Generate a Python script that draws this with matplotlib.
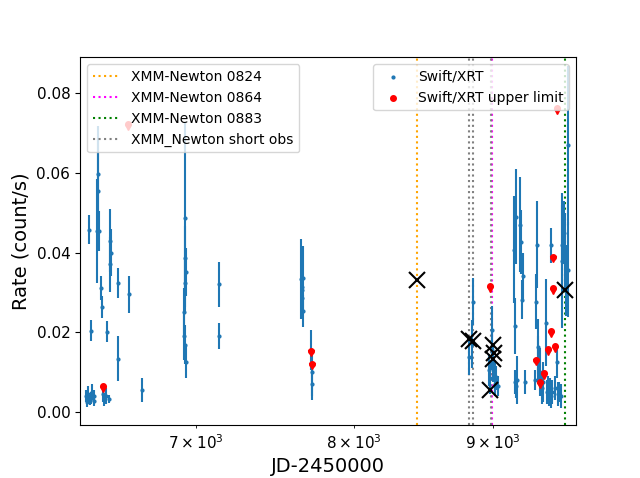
import matplotlib
matplotlib.use("Agg")
import matplotlib.pyplot as plt

# Swift/XRT detections (JD-2450000, rate, error)
swift_t = [6377, 6383, 6388, 6393, 6397, 6403, 6404, 6412, 6418, 6423,
           6435, 6441, 6445, 6450, 6459, 6464, 6469, 6475, 6486, 6491,
           6504, 6508, 6510, 6514, 6550, 6552, 6614, 6687,
           6932, 6932, 6935, 6935, 6938, 6938, 6941, 6941,
           7138, 7138,
           7649, 7655, 7658, 7660, 7662, 7664, 7717, 7721, 7725,
           8821, 8846, 8849,
           8972, 8983, 8991, 8998, 9006, 9014, 9021, 9029, 9041,
           9164, 9168, 9174, 9177, 9180, 9187, 9210, 9216, 9224, 9236, 9250,
           9328, 9336, 9344, 9352, 9355, 9370, 9383, 9392, 9413, 9420,
           9429, 9439, 9450, 9452, 9458, 9466, 9488, 9501, 9510, 9520,
           9533, 9544, 9546, 9555, 9562, 9570, 9580, 9590, 9596]
swift_rate = [0.0040, 0.0025, 0.0045, 0.0457, 0.0030, 0.0035, 0.0204, 0.0050, 0.0028, 0.0040,
              0.0454, 0.0597, 0.0555, 0.0454, 0.0310, 0.0264, 0.0045, 0.0030, 0.0039, 0.0201,
              0.0033, 0.0430, 0.0370, 0.0400, 0.0324, 0.0134, 0.0295, 0.0054,
              0.0250, 0.0190, 0.0487, 0.0324, 0.0386, 0.0169, 0.0352, 0.0126,
              0.0320, 0.0190,
              0.0334, 0.0314, 0.0306, 0.0286, 0.0336, 0.0254, 0.0156, 0.0099, 0.0069,
              0.0139, 0.0170, 0.0277,
              0.0105, 0.0085, 0.0205, 0.0155, 0.0120, 0.0090, 0.0070, 0.0085, 0.0065,
              0.0407, 0.0075, 0.0216, 0.0490, 0.0065, 0.0081, 0.0470, 0.0427, 0.0282, 0.0340, 0.0076,
              0.0080, 0.0277, 0.0420, 0.0164, 0.0131, 0.0100, 0.0060, 0.0075, 0.0224, 0.0050,
              0.0060, 0.0045, 0.0055, 0.0418, 0.0040, 0.0050, 0.0060, 0.0124, 0.0045, 0.0050,
              0.0040, 0.0420, 0.0380, 0.0450, 0.0450, 0.0400, 0.0330, 0.0357, 0.0669]
swift_err = [0.0015, 0.0012, 0.0020, 0.0036, 0.0012, 0.0015, 0.0026, 0.0020, 0.0012, 0.0015,
             0.0130, 0.0120, 0.0130, 0.0050, 0.0030, 0.0028, 0.0020, 0.0015, 0.0020, 0.0026,
             0.0010, 0.0080, 0.0070, 0.0060, 0.0038, 0.0057, 0.0046, 0.0030,
             0.0060, 0.0060, 0.0240, 0.0060, 0.0080, 0.0050, 0.0060, 0.0040,
             0.0057, 0.0033,
             0.0100, 0.0060, 0.0060, 0.0050, 0.0080, 0.0040, 0.0050, 0.0060, 0.0040,
             0.0046, 0.0060, 0.0060,
             0.0040, 0.0040, 0.0060, 0.0050, 0.0045, 0.0040, 0.0030, 0.0030, 0.0025,
             0.0134, 0.0030, 0.0070, 0.0120, 0.0030, 0.0060, 0.0120, 0.0080, 0.0050, 0.0060, 0.0030,
             0.0025, 0.0070, 0.0109, 0.0070, 0.0060, 0.0060, 0.0040, 0.0050, 0.0110, 0.0030,
             0.0030, 0.0030, 0.0030, 0.0044, 0.0030, 0.0030, 0.0030, 0.0040, 0.0030, 0.0025,
             0.0030, 0.0100, 0.0170, 0.0080, 0.0080, 0.0100, 0.0090, 0.0120, 0.0200]

# Swift/XRT upper limits
ul_t = [6471, 6610, 7717, 7725, 8979, 9336, 9370, 9402, 9429, 9458, 9475, 9475, 9488, 9506]
ul_rate = [0.0064, 0.0723, 0.0154, 0.0121, 0.0315, 0.0131, 0.0074, 0.0098, 0.0158, 0.0202,
           0.0390, 0.0311, 0.0165, 0.0762]

# XMM-Newton rates
xmm_t = [8439, 8820, 8852, 8979, 9000, 9000, 9007, 9569]
xmm_rate = [0.0332, 0.0183, 0.0177, 0.0056, 0.0169, 0.0134, 0.0149, 0.0307]

# XMM-Newton observation epochs
t_0824 = 8439
t_0864 = 8997
t_0883 = 9566
t_short = [8819, 8849, 8987]

fig, ax = plt.subplots(figsize=(6.4, 4.78))

l1 = ax.axvline(t_0824, color='orange', ls=':', label='XMM-Newton 0824')
l2 = ax.axvline(t_0864, color='magenta', ls=':', label='XMM-Newton 0864')
l3 = ax.axvline(t_0883, color='green', ls=':', label='XMM-Newton 0883')
for i, t in enumerate(t_short):
    l = ax.axvline(t, color='gray', ls=':', label='XMM_Newton short obs' if i == 0 else None)
    if i == 0:
        l4 = l

ax.errorbar(swift_t, swift_rate, yerr=swift_err, fmt='none', ecolor='C0')
s1 = ax.scatter(swift_t, swift_rate, s=4, color='C0', label='Swift/XRT', zorder=3)
ax.plot(ul_t, [r - 0.0007 for r in ul_rate], 'v', color='red', ms=5, zorder=3)
s2 = ax.scatter(ul_t, ul_rate, s=16, color='red', label='Swift/XRT upper limit', zorder=3)
ax.plot(xmm_t, xmm_rate, 'x', color='black', ms=11, mew=1.5, zorder=4)

ax.set_xscale('log')
ax.set_xlim(6345, 9658)
ax.set_ylim(-0.0034, 0.089)
ax.set_xlabel('JD-2450000', fontsize=14)
ax.set_ylabel('Rate (count/s)', fontsize=14)
ax.tick_params(labelsize=11)
ax.tick_params(which='minor', labelsize=11)

leg1 = ax.legend(handles=[l1, l2, l3, l4], loc='upper left')
ax.add_artist(leg1)
ax.legend(handles=[s1, s2], loc='upper right')

plt.savefig('out.png', dpi=100)
